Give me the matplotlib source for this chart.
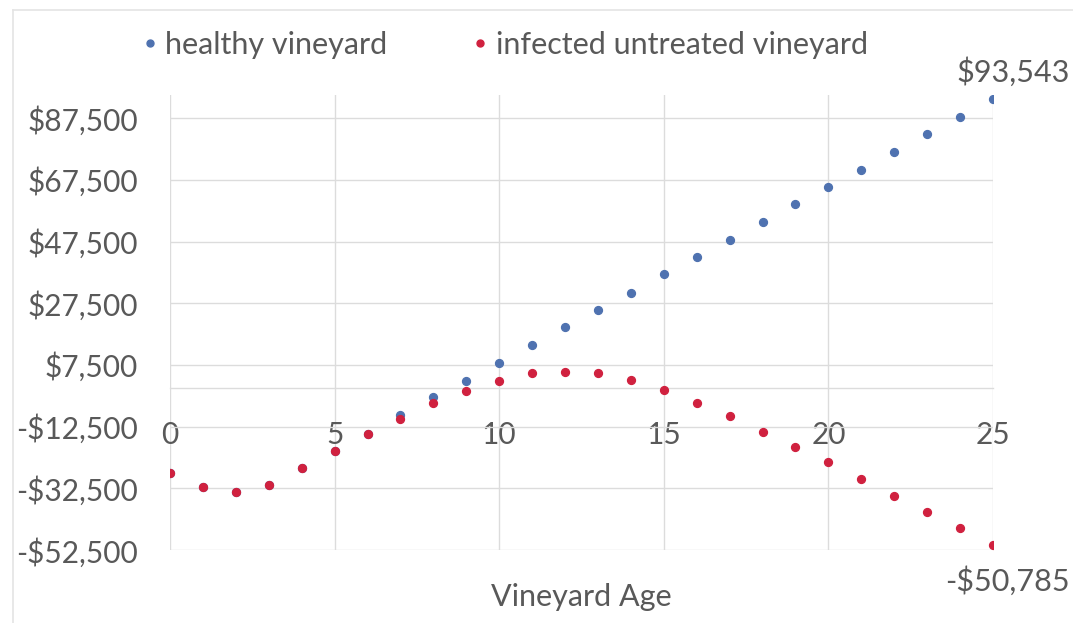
import matplotlib.pyplot as plt
from matplotlib.lines import Line2D
from matplotlib.ticker import FuncFormatter

plt.rcParams['font.family'] = ['Lato', 'DejaVu Sans']

age = list(range(26))
healthy = [-27400, -32000, -33800, -31500, -26000, -20300, -14900, -8700,
           -2800, 2400, 8200, 14000, 19800, 25200, 30900, 36900, 42400,
           47900, 53800, 59600, 65300, 70700, 76600, 82400, 88000, 93543]
infected = [-27400, -32000, -33800, -31500, -26000, -20300, -14900, -9900,
            -4900, -900, 2400, 4900, 5200, 4800, 2700, -600, -4700, -9100,
            -14200, -19200, -24100, -29500, -34900, -40300, -45300, -50785]
y_ticks = [-52500, -32500, -12500, 7500, 27500, 47500, 67500, 87500]
x_ticks = [0, 5, 10, 15, 20, 25]

blue = '#4f72b0'
red = '#d0213f'
grey = '#595959'
grid = '#dcdcdc'

fig = plt.figure(figsize=(10.73, 6.23), dpi=100)
ax = fig.add_axes([170 / 1073, 1 - 550 / 623, (993 - 170) / 1073, (550 - 95) / 623])

ax.scatter(age, healthy, s=32, color=blue, zorder=3, label='healthy vineyard')
ax.scatter(age, infected, s=32, color=red, zorder=4, label='infected untreated vineyard')

ax.set_xlim(0, 25)
ax.set_ylim(-52500, 95000)
ax.set_xticks(x_ticks)
ax.set_yticks(y_ticks)
ax.yaxis.set_major_formatter(FuncFormatter(
    lambda v, p: ('-$' if v < 0 else '$') + f'{abs(int(v)):,}'))
ax.grid(True, color=grid, linewidth=1.0, zorder=0)
for s in ['top', 'right', 'left']:
    ax.spines[s].set_visible(False)
ax.spines['bottom'].set_position(('data', 0))
ax.spines['bottom'].set_color(grid)
ax.spines['bottom'].set_linewidth(1.0)
ax.tick_params(axis='both', length=0, labelsize=21.5, labelcolor=grey)
ax.tick_params(axis='x', pad=24)
ax.tick_params(axis='y', pad=23)

fig.text(581 / 1073, 1 - 597 / 623, 'Vineyard Age', ha='center', va='center',
         fontsize=22, color=grey)

ax.annotate('$93,543', (age[-1], healthy[-1]), xytext=(20, 28),
            textcoords='offset pixels', ha='center', va='center',
            fontsize=22, color=grey)
ax.annotate('-$50,785', (age[-1], infected[-1]), xytext=(14, -36),
            textcoords='offset pixels', ha='center', va='center',
            fontsize=22, color=grey)

handles = [Line2D([], [], marker='o', linestyle='', markersize=5, color=blue),
           Line2D([], [], marker='o', linestyle='', markersize=5, color=red)]
fig.legend(handles, ['healthy vineyard', 'infected untreated vineyard'],
           loc='center', bbox_to_anchor=(504 / 1073, 1 - 45 / 623), ncol=2,
           frameon=False, fontsize=22, labelcolor=grey, handletextpad=0.2,
           columnspacing=2.75, handlelength=0.6)

# chart area border
fig.add_artist(Line2D([13 / 1073, 13 / 1073], [0, 1 - 10 / 623],
                      transform=fig.transFigure, color='#e4e4e4', linewidth=1.2))
fig.add_artist(Line2D([13 / 1073, 1], [1 - 10 / 623, 1 - 10 / 623],
                      transform=fig.transFigure, color='#e4e4e4', linewidth=1.2))

fig.savefig('out.png', dpi=100)
